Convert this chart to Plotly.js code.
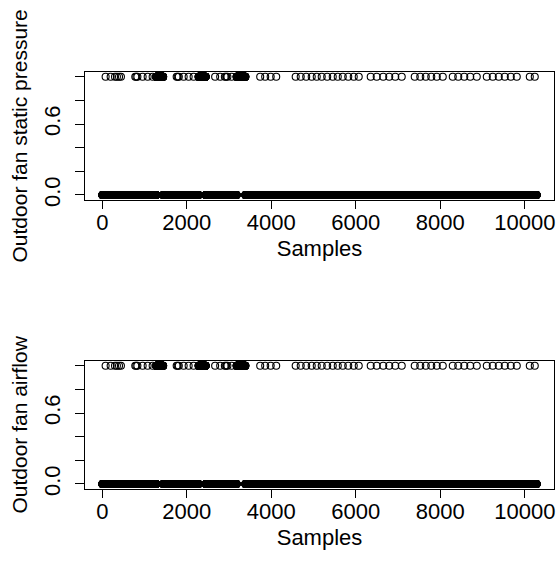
<!DOCTYPE html>
<html><head><meta charset="utf-8">
<script src="https://cdn.plot.ly/plotly-3.0.1.min.js"></script>
<style>html,body{margin:0;padding:0;background:#fff}</style>
</head><body><div id="chart" style="width:559px;height:568px"></div>
<script>
// ---- data ----
const nSamples = 10280;
// isolated samples whose value is 1
const onePoints = [78, 197, 300, 345, 395, 440,
  780, 805, 830, 954, 1073, 1191,
  1760, 1785, 1810, 1925, 2043, 2161,
  2670, 2790, 2900, 2930, 2960, 3060,
  3737, 3855, 3985, 4116,
  4577, 4696, 4826, 4956, 5075, 5193, 5323, 5454, 5572, 5691, 5821, 5951, 6069,
  6353, 6495, 6649, 6791, 6934, 7087,
  7395, 7526, 7656, 7786, 7916, 8058,
  8295, 8425, 8567, 8709, 8863,
  9100, 9242, 9384, 9526, 9668, 9810,
  10118, 10236];
// contiguous blocks of samples whose value is 1
const oneRunStart = [1275, 2280, 3180];
const oneRunEnd   = [1440, 2445, 3385];
const xTicks = [0, 2000, 4000, 6000, 8000, 10000];
const xTickText = ['0', '2000', '4000', '6000', '8000', '10000'];
const yTicks = [0, 0.2, 0.4, 0.6, 0.8, 1.0];
const yTickText = ['0.0', '', '', '0.6', '', ''];
const yTitles = ['Outdoor fan static pressure', 'Outdoor fan airflow'];
const xTitle = 'Samples';

// ---- build series ----
const isOne = new Array(nSamples + 1).fill(false);
onePoints.forEach(i => { isOne[i] = true; });
oneRunStart.forEach((s, k) => { for (let i = s; i <= oneRunEnd[k]; i++) isOne[i] = true; });
const xs = [], ys = [];
for (let i = 1; i <= nSamples; i++) { xs.push(i); ys.push(isOne[i] ? 1 : 0); }

const font = {family: 'Liberation Sans, Arial, sans-serif', size: 22, color: '#000'};
const yTitleFont = {family: 'Liberation Sans, Arial, sans-serif', size: 21, color: '#000'};
const marker = {symbol: 'circle-open', size: 7, color: '#000', line: {width: 1.1, color: '#000'}};

const traces = [
  {type: 'scatter', mode: 'markers', x: xs, y: ys, xaxis: 'x', yaxis: 'y', marker: marker, hoverinfo: 'skip'},
  {type: 'scatter', mode: 'markers', x: xs, y: ys, xaxis: 'x2', yaxis: 'y2', marker: marker, hoverinfo: 'skip'}
];

const xr = [1 - 0.04 * (nSamples - 1), nSamples + 0.04 * (nSamples - 1)];
function xaxis(anchor) {
  return {anchor: anchor, domain: [0, 1], range: xr, tickmode: 'array', tickvals: xTicks, ticktext: xTickText,
    ticks: 'outside', ticklen: 8, tickwidth: 1, tickcolor: '#000',
    showline: true, mirror: true, linecolor: '#000', linewidth: 1,
    showgrid: false, zeroline: false, tickfont: font, ticklabelstandoff: -5,
    title: {text: xTitle, font: font, standoff: 6}};
}
function yaxis(anchor, dom, t) {
  return {anchor: anchor, domain: dom, range: [-0.04, 1.04], tickmode: 'array', tickvals: yTicks, ticktext: yTickText,
    tickangle: -90, ticks: 'outside', ticklen: 9, tickwidth: 1, tickcolor: '#000',
    showline: true, mirror: true, linecolor: '#000', linewidth: 1,
    showgrid: false, zeroline: false, tickfont: font, ticklabelstandoff: 6,
    title: {text: t, font: yTitleFont, standoff: 6}};
}

const layout = {
  width: 559, height: 568, showlegend: false,
  paper_bgcolor: '#fff', plot_bgcolor: '#fff',
  margin: {l: 85.4, r: 4.8, t: 0, b: 0},
  xaxis: xaxis('y'), yaxis: yaxis('x', [368.3 / 568, 496 / 568], yTitles[0]),
  xaxis2: xaxis('y2'), yaxis2: yaxis('x2', [79.3 / 568, 207 / 568], yTitles[1])
};

Plotly.newPlot('chart', traces, layout, {staticPlot: true, displayModeBar: false});
</script></body></html>
